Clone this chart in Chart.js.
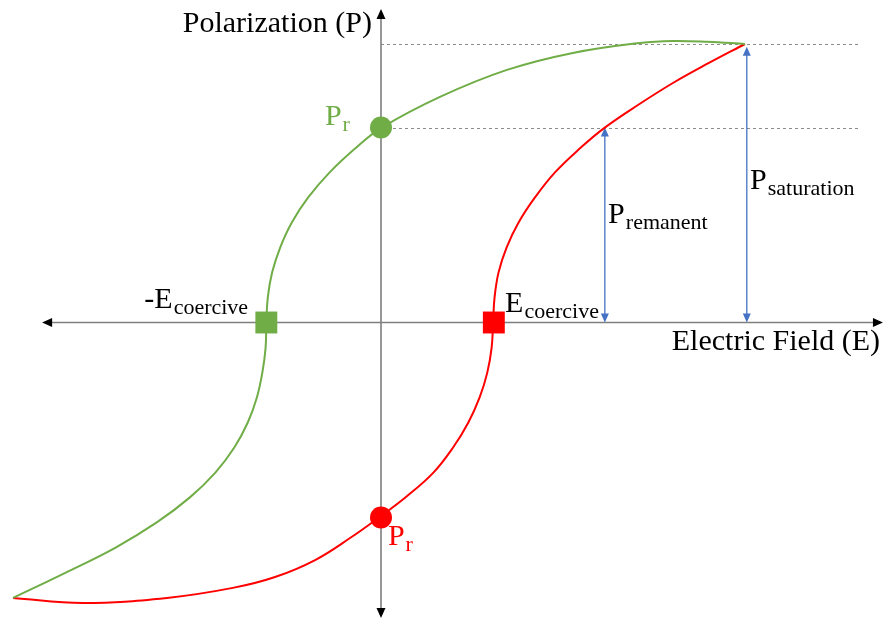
<!DOCTYPE html>
<html>
<head>
<meta charset="utf-8">
<title>Ferroelectric hysteresis loop</title>
<script src="https://cdn.jsdelivr.net/npm/chart.js@4/dist/chart.umd.min.js"></script>
<style>
  html, body { margin: 0; padding: 0; background: #fff; }
  #wrap { width: 888px; height: 619px; position: relative; }
</style>
</head>
<body>
<div id="wrap"><canvas id="loop"></canvas></div>
<script>
// E is in units of E at saturation, P in units of P saturation
// green branch: field coming down from +saturation
const greenE = [-1.011, -0.866, -0.729, -0.616, -0.525, -0.455, -0.403, -0.366, -0.341, -0.326, -0.317, -0.315,
                -0.311, -0.299, -0.277, -0.245, -0.200, -0.141, -0.068, 0,
                0.162, 0.346, 0.527, 0.712, 0.802, 0.896, 1.0];
const greenP = [-0.989, -0.898, -0.808, -0.718, -0.628, -0.539, -0.449, -0.359, -0.269, -0.180, -0.090, 0,
                0.090, 0.180, 0.269, 0.359, 0.449, 0.539, 0.628, 0.698,
                0.810, 0.907, 0.968, 1.004, 1.011, 1.008, 1.0];

// red branch: field going up from -saturation
const redE = [-1.011, -0.819, -0.588, -0.407, -0.291, -0.181, -0.085, 0,
              0.071, 0.144, 0.198, 0.240, 0.271, 0.292, 0.304, 0.308,
              0.312, 0.323, 0.345, 0.378, 0.423, 0.478, 0.549, 0.613, 0.706, 0.802, 0.901, 1.0];
const redP = [-0.989, -1.007, -0.989, -0.953, -0.914, -0.853, -0.774, -0.695,
              -0.624, -0.539, -0.449, -0.359, -0.269, -0.180, -0.090, 0,
              0.090, 0.180, 0.269, 0.359, 0.449, 0.539, 0.628, 0.698, 0.781, 0.860, 0.932, 1.0];

const remanentP = 0.7;
const saturationP = 1.0;
const coerciveE = 0.31;
const remanentE = 0.615;   // where the red branch reaches P remanent
const saturationE = 1.005;

const GREEN = "#70AD47";
const RED = "#FF0000";
const BLUE = "#4472C4";
const SERIF = "'Liberation Serif', 'Times New Roman', serif";

function pts(xs, ys) {
    return xs.map((x, i) => ({ x: x, y: ys[i] }));
}

function arrowHead(ctx, x, y, dir, len, half) {
    // dir: "up", "down", "left", "right" -- (x, y) is the tip
    ctx.beginPath();
    ctx.moveTo(x, y);
    if (dir === "up") { ctx.lineTo(x - half, y + len); ctx.lineTo(x + half, y + len); }
    if (dir === "down") { ctx.lineTo(x - half, y - len); ctx.lineTo(x + half, y - len); }
    if (dir === "left") { ctx.lineTo(x + len, y - half); ctx.lineTo(x + len, y + half); }
    if (dir === "right") { ctx.lineTo(x - len, y - half); ctx.lineTo(x - len, y + half); }
    ctx.closePath();
    ctx.fill();
}

function subLabel(ctx, main, sub, x, y, color, align) {
    ctx.fillStyle = color;
    ctx.textBaseline = "alphabetic";
    ctx.textAlign = "left";
    ctx.font = `30px ${SERIF}`;
    const w1 = ctx.measureText(main).width;
    ctx.font = `22px ${SERIF}`;
    const w2 = ctx.measureText(sub).width;
    const left = align === "right" ? x - w1 - w2 - 1 : x;
    ctx.font = `30px ${SERIF}`;
    ctx.fillText(main, left, y);
    ctx.font = `22px ${SERIF}`;
    ctx.fillText(sub, left + w1 + 1, y + 6);
}

// axes, guides and the measurement arrows
const decorations = {
    id: "decorations",
    beforeDatasetsDraw(chart) {
        const ctx = chart.ctx;
        const px = v => chart.scales.x.getPixelForValue(v);
        const py = v => chart.scales.y.getPixelForValue(v);
        ctx.save();

        // dashed guides at saturation and remanent polarization
        ctx.strokeStyle = "#8c8c8c";
        ctx.lineWidth = 1;
        ctx.setLineDash([3, 3]);
        [saturationP, remanentP].forEach(p => {
            ctx.beginPath();
            ctx.moveTo(px(0), Math.round(py(p)) + 0.5);
            ctx.lineTo(px(1.316), Math.round(py(p)) + 0.5);
            ctx.stroke();
        });
        ctx.setLineDash([]);

        // axes
        ctx.strokeStyle = "#7f7f7f";
        ctx.lineWidth = 1.6;
        ctx.beginPath();
        ctx.moveTo(px(-0.92), py(0));
        ctx.lineTo(px(1.37), py(0));
        ctx.moveTo(px(0), py(1.115));
        ctx.lineTo(px(0), py(-1.05));
        ctx.stroke();
        ctx.fillStyle = "#000";
        arrowHead(ctx, px(-0.931), py(0), "left", 10, 4.5);
        arrowHead(ctx, px(1.379), py(0), "right", 10, 4.5);
        arrowHead(ctx, px(0), py(1.126), "up", 10, 4.5);
        arrowHead(ctx, px(0), py(-1.061), "down", 10, 4.5);

        // double headed arrows for P remanent and P saturation
        ctx.strokeStyle = BLUE;
        ctx.fillStyle = BLUE;
        ctx.lineWidth = 1.3;
        [[remanentE, remanentP], [saturationE, 0.99]].forEach(([e, p]) => {
            const x = px(e);
            ctx.beginPath();
            ctx.moveTo(x, py(p) + 6);
            ctx.lineTo(x, py(0) - 6);
            ctx.stroke();
            arrowHead(ctx, x, py(p), "up", 9, 4);
            arrowHead(ctx, x, py(0), "down", 9, 4);
        });
        ctx.restore();
    },
    afterDatasetsDraw(chart) {
        const ctx = chart.ctx;
        const px = v => chart.scales.x.getPixelForValue(v);
        const py = v => chart.scales.y.getPixelForValue(v);
        ctx.save();

        ctx.fillStyle = "#000";
        ctx.font = `30px ${SERIF}`;
        ctx.textAlign = "right";
        ctx.textBaseline = "alphabetic";
        ctx.fillText("Polarization (P)", px(-0.025), py(1.043));
        ctx.fillText("Electric Field (E)", px(1.371), py(-0.099));

        subLabel(ctx, "P", "r", px(-0.154), py(0.709), GREEN, "left");
        subLabel(ctx, "-E", "coercive", px(-0.365), py(0.052), "#000", "right");
        subLabel(ctx, "E", "coercive", px(0.341), py(0.038), "#000", "left");
        subLabel(ctx, "P", "remanent", px(0.624), py(0.357), "#000", "left");
        subLabel(ctx, "P", "saturation", px(1.014), py(0.478), "#000", "left");
        subLabel(ctx, "P", "r", px(0.019), py(-0.799), RED, "left");
        ctx.restore();
    }
};

const ctx = document.getElementById("loop").getContext("2d");
new Chart(ctx, {
    type: "scatter",
    data: {
        datasets: [
            {
                label: "Decreasing field",
                data: pts(greenE, greenP),
                showLine: true,
                borderColor: GREEN,
                borderWidth: 2,
                tension: 0.4,
                pointRadius: 0,
            },
            {
                label: "Increasing field",
                data: pts(redE, redP),
                showLine: true,
                borderColor: RED,
                borderWidth: 2,
                tension: 0.4,
                pointRadius: 0,
            },
            {
                label: "Green remanence",
                data: [{ x: 0, y: remanentP }],
                pointStyle: "circle",
                pointRadius: 11,
                backgroundColor: GREEN,
                borderWidth: 0,
            },
            {
                label: "Green coercive",
                data: [{ x: -coerciveE - 0.005, y: 0 }],
                pointStyle: "rect",
                pointRadius: 15.5,
                backgroundColor: GREEN,
                borderWidth: 0,
            },
            {
                label: "Red coercive",
                data: [{ x: coerciveE, y: 0 }],
                pointStyle: "rect",
                pointRadius: 15.5,
                backgroundColor: RED,
                borderWidth: 0,
            },
            {
                label: "Red remanence",
                data: [{ x: 0, y: -remanentP }],
                pointStyle: "circle",
                pointRadius: 11,
                backgroundColor: RED,
                borderWidth: 0,
            },
        ],
    },
    options: {
        responsive: true,
        maintainAspectRatio: false,
        animation: false,
        devicePixelRatio: 1,
        layout: { padding: 0, autoPadding: false },
        plugins: {
            legend: { display: false },
            tooltip: { enabled: false },
        },
        scales: {
            x: { type: "linear", min: -1.0467, max: 1.3929, display: false },
            y: { type: "linear", min: -1.0647, max: 1.158, display: false },
        },
    },
    plugins: [decorations],
});
</script>
</body>
</html>
